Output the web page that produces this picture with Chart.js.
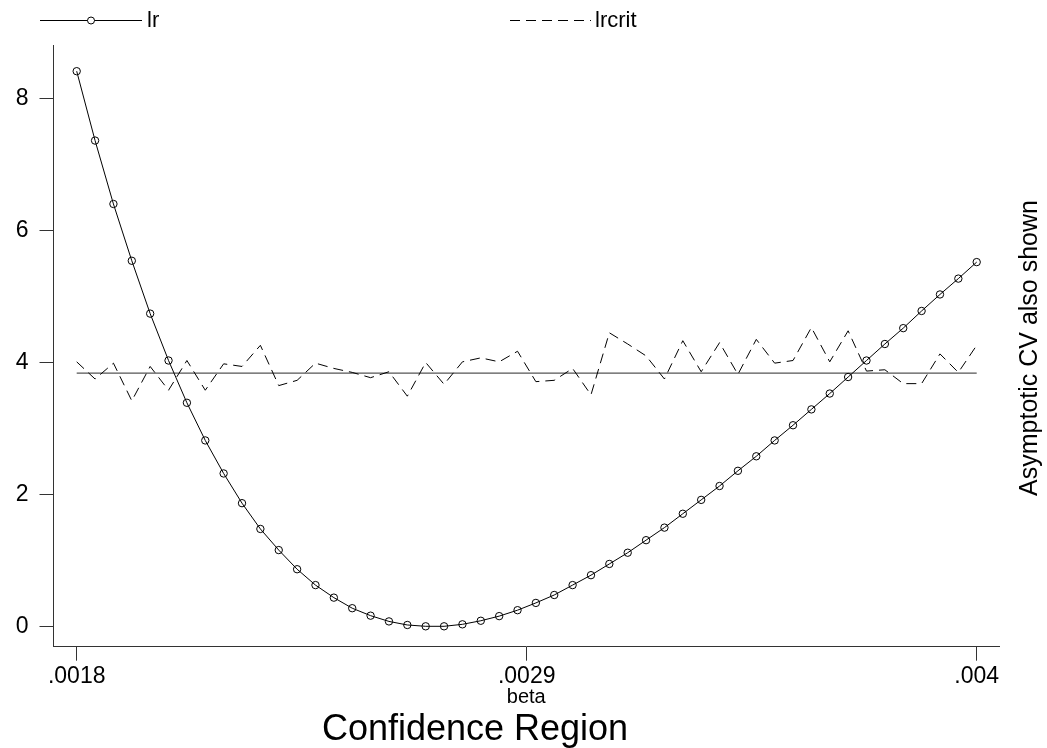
<!DOCTYPE html>
<html><head><meta charset="utf-8">
<script src="https://cdn.jsdelivr.net/npm/chart.js@4/dist/chart.umd.min.js"></script>
<style>html,body{margin:0;padding:0;background:#fff}#wrap{width:1047px;height:748px;position:relative}</style>
</head><body><div id="wrap"><canvas id="c" width="1047" height="748"></canvas></div>
<script>
// ---- data ----
const beta = [0.0018, 0.0018449, 0.0018898, 0.0019347, 0.0019796, 0.0020245, 0.0020694, 0.0021143, 0.0021592, 0.0022041,
  0.002249, 0.0022939, 0.0023388, 0.0023837, 0.0024286, 0.0024735, 0.0025184, 0.0025633, 0.0026082, 0.0026531,
  0.002698, 0.0027429, 0.0027878, 0.0028327, 0.0028776, 0.0029224, 0.0029673, 0.0030122, 0.0030571, 0.003102,
  0.0031469, 0.0031918, 0.0032367, 0.0032816, 0.0033265, 0.0033714, 0.0034163, 0.0034612, 0.0035061, 0.003551,
  0.0035959, 0.0036408, 0.0036857, 0.0037306, 0.0037755, 0.0038204, 0.0038653, 0.0039102, 0.0039551, 0.004];
const lr = [8.41, 7.36, 6.40, 5.54, 4.74, 4.03, 3.39, 2.82, 2.32, 1.87,
  1.48, 1.16, 0.87, 0.63, 0.44, 0.28, 0.167, 0.08, 0.026, 0.006,
  0.006, 0.036, 0.09, 0.16, 0.25, 0.36, 0.48, 0.63, 0.78, 0.95,
  1.12, 1.31, 1.50, 1.71, 1.92, 2.13, 2.36, 2.58, 2.82, 3.05,
  3.29, 3.53, 3.78, 4.03, 4.28, 4.52, 4.78, 5.03, 5.27, 5.52];
const lrcrit = [4.01, 3.75, 3.99, 3.42, 3.94, 3.58, 4.03, 3.58, 3.98, 3.94,
  4.26, 3.65, 3.73, 3.99, 3.91, 3.85, 3.77, 3.86, 3.49, 4.00,
  3.67, 4.01, 4.07, 4.01, 4.17, 3.71, 3.73, 3.91, 3.51, 4.45,
  4.28, 4.10, 3.75, 4.33, 3.86, 4.30, 3.82, 4.35, 3.99, 4.03,
  4.53, 4.01, 4.48, 3.87, 3.89, 3.68, 3.68, 4.13, 3.85, 4.26];
const cvBeta = [0.0018, 0.004];
const cvValue = [3.84, 3.84];
const xTickValues = [0.0018, 0.0029, 0.004];
const xTickLabels = ['.0018', '.0029', '.004'];
const yTickValues = [0, 2, 4, 6, 8];
const yTickLabels = ['0', '2', '4', '6', '8'];
const seriesNames = ['lr', 'lrcrit'];
const xTitle = 'beta';
const rightTitle = 'Asymptotic CV also shown';
const mainTitle = 'Confidence Region';

const FONT = '"Liberation Sans", Arial, Helvetica, sans-serif';
const pts = (xs, ys) => xs.map((x, i) => ({x: x, y: ys[i]}));
const pick = (vals, labs) => (v) => { for (let i = 0; i < vals.length; i++) if (Math.abs(vals[i] - v) < 1e-9) return labs[i]; return ''; };

const decor = {
  id: 'decor',
  afterDraw(chart) {
    const ctx = chart.ctx;
    ctx.save();
    ctx.fillStyle = '#000';
    ctx.strokeStyle = '#000';
    ctx.lineWidth = 1;
    // legend
    const ly = 20.5;
    ctx.beginPath(); ctx.moveTo(40, ly); ctx.lineTo(142, ly); ctx.stroke();
    ctx.beginPath(); ctx.fillStyle = '#fff'; ctx.arc(91, ly, 3.5, 0, Math.PI * 2); ctx.fill(); ctx.stroke();
    ctx.fillStyle = '#000';
    ctx.font = '22px ' + FONT;
    ctx.textBaseline = 'middle';
    ctx.textAlign = 'left';
    ctx.fillText(seriesNames[0], 147, ly);
    ctx.setLineDash([10, 6]);
    ctx.beginPath(); ctx.moveTo(510, ly); ctx.lineTo(591, ly); ctx.stroke();
    ctx.setLineDash([]);
    ctx.fillText(seriesNames[1], 595, ly);
    // right title
    ctx.save();
    ctx.translate(1030, 348);
    ctx.rotate(-Math.PI / 2);
    ctx.textAlign = 'center';
    ctx.font = '25px ' + FONT;
    ctx.fillText(rightTitle, 0, 0);
    ctx.restore();
    // main title
    ctx.textAlign = 'center';
    ctx.textBaseline = 'alphabetic';
    ctx.font = '36px ' + FONT;
    ctx.fillText(mainTitle, 475, 740);
    ctx.restore();
  }
};

new Chart(document.getElementById('c'), {
  type: 'line',
  data: {
    datasets: [
      {label: seriesNames[0], data: pts(beta, lr), borderColor: '#000', borderWidth: 1,
       pointRadius: 3.7, pointBorderWidth: 1, pointBorderColor: '#000', pointBackgroundColor: 'rgba(0,0,0,0)', tension: 0},
      {label: seriesNames[1], data: pts(beta, lrcrit), borderColor: '#000', borderWidth: 1, borderDash: [10, 6],
       pointRadius: 0, tension: 0},
      {label: 'cv', data: pts(cvBeta, cvValue), borderColor: '#555', borderWidth: 1.3, pointRadius: 0, tension: 0}
    ]
  },
  options: {
    responsive: false,
    animation: false,
    devicePixelRatio: 1,
    layout: {padding: {top: 45, left: 0, right: 48, bottom: 0}},
    plugins: {legend: {display: false}, title: {display: false}, tooltip: {enabled: false}},
    scales: {
      x: {
        type: 'linear', min: 0.0017433, max: 0.0040545,
        afterFit(s) { s.height = 101.3; },
        afterBuildTicks(s) { s.ticks = xTickValues.map(v => ({value: v})); },
        grid: {drawOnChartArea: false, drawTicks: true, tickLength: 14, color: '#333'},
        border: {display: true, color: '#333', width: 1},
        ticks: {callback: pick(xTickValues, xTickLabels), color: '#000', font: {family: FONT, size: 23}, padding: 2, maxRotation: 0, autoSkip: false},
        title: {display: true, text: xTitle, color: '#000', font: {family: FONT, size: 20}, padding: {top: 0, bottom: 39}}
      },
      y: {
        type: 'linear', min: -0.3028, max: 8.8067,
        afterFit(s) { s.width = 53.5; },
        afterBuildTicks(s) { s.ticks = yTickValues.map(v => ({value: v})); },
        grid: {drawOnChartArea: false, drawTicks: true, tickLength: 14, color: '#333'},
        border: {display: true, color: '#333', width: 1},
        ticks: {callback: pick(yTickValues, yTickLabels), color: '#000', font: {family: FONT, size: 23}, padding: 11}
      }
    }
  },
  plugins: [decor]
});
</script></body></html>
